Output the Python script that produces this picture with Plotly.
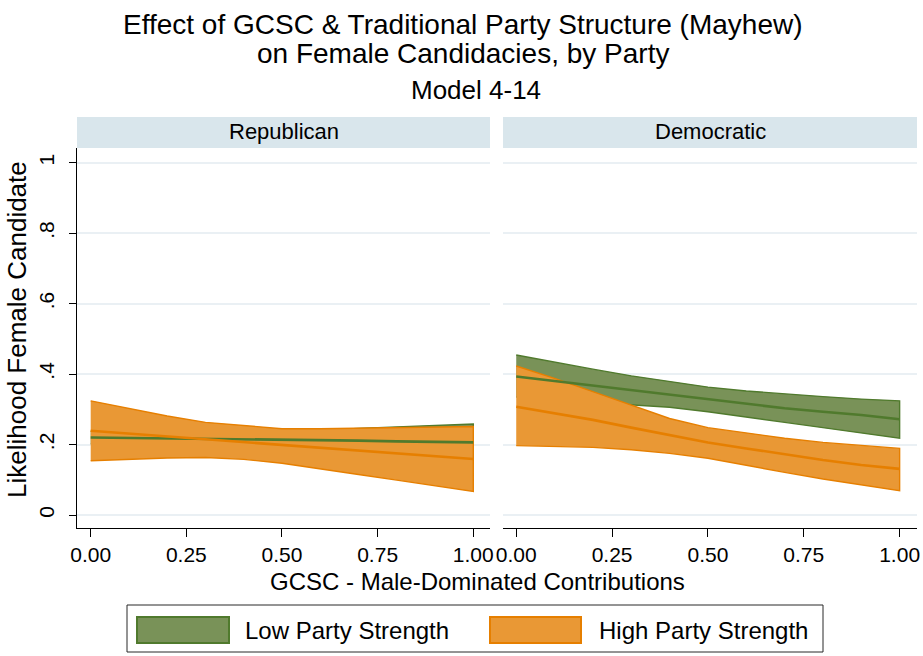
import plotly.graph_objects as go

# GCSC share of male-dominated contributions
gcsc = [0.0, 0.1, 0.2, 0.3, 0.4, 0.5, 0.6, 0.7, 0.8, 0.9, 1.0]

# Republican: predicted probability with 95% bounds
rep_low_mean = [0.220, 0.219, 0.218, 0.217, 0.215, 0.213, 0.212, 0.211, 0.209, 0.208, 0.206]
rep_low_upper = [0.238, 0.236, 0.234, 0.233, 0.234, 0.237, 0.241, 0.246, 0.250, 0.254, 0.258]
rep_low_lower = [0.202, 0.202, 0.202, 0.201, 0.196, 0.189, 0.183, 0.176, 0.168, 0.161, 0.154]
rep_high_mean = [0.239, 0.231, 0.222, 0.214, 0.205, 0.197, 0.189, 0.182, 0.174, 0.167, 0.159]
rep_high_upper = [0.324, 0.303, 0.281, 0.263, 0.254, 0.245, 0.245, 0.246, 0.247, 0.249, 0.251]
rep_high_lower = [0.154, 0.158, 0.162, 0.163, 0.158, 0.147, 0.132, 0.115, 0.099, 0.082, 0.067]

# Democratic
dem_low_mean = [0.393, 0.380, 0.369, 0.356, 0.343, 0.329, 0.315, 0.303, 0.293, 0.284, 0.272]
dem_low_upper = [0.454, 0.433, 0.414, 0.395, 0.378, 0.363, 0.352, 0.343, 0.336, 0.329, 0.324]
dem_low_lower = [0.335, 0.326, 0.318, 0.312, 0.306, 0.293, 0.279, 0.263, 0.248, 0.232, 0.218]
dem_high_mean = [0.307, 0.289, 0.270, 0.248, 0.227, 0.206, 0.189, 0.172, 0.156, 0.142, 0.131]
dem_high_upper = [0.423, 0.388, 0.350, 0.312, 0.274, 0.248, 0.232, 0.218, 0.206, 0.197, 0.189]
dem_high_lower = [0.197, 0.195, 0.192, 0.185, 0.175, 0.161, 0.140, 0.121, 0.102, 0.085, 0.069]

panels = ["Republican", "Democratic"]
x_ticks = [0, 0.25, 0.5, 0.75, 1.0]
x_ticktext = ["0.00", "0.25", "0.50", "0.75", "1.00"]
y_ticks = [0, 0.2, 0.4, 0.6, 0.8, 1.0]
y_ticktext = ["0", ".2", ".4", ".6", ".8", "1"]
legend_labels = ["Low Party Strength", "High Party Strength"]
title_lines = ["Effect of GCSC & Traditional Party Structure (Mayhew)",
               "on Female Candidacies, by Party"]
subtitle = "Model 4-14"

GREEN_FILL = "rgb(121,146,88)"
GREEN_LINE = "rgb(80,122,45)"
ORANGE_FILL = "rgb(233,152,53)"
ORANGE_LINE = "rgb(230,127,0)"
FONT = "Liberation Sans, Arial, sans-serif"

W, H = 923, 656


def px(x):
    return x / W


def py(y):
    return 1 - y / H


fig = go.Figure()


def band(xs, lo, hi, fill, edge, xa, ya):
    fig.add_trace(go.Scatter(
        x=xs + xs[::-1], y=hi + lo[::-1], fill="toself", mode="lines",
        fillcolor=fill, line=dict(color=edge, width=1.4),
        xaxis=xa, yaxis=ya, showlegend=False, hoverinfo="skip"))


def mean_line(xs, ys, color, xa, ya):
    fig.add_trace(go.Scatter(
        x=xs, y=ys, mode="lines", line=dict(color=color, width=2.6),
        xaxis=xa, yaxis=ya, showlegend=False))


series = [
    ("x", "y", rep_low_mean, rep_low_lower, rep_low_upper,
     rep_high_mean, rep_high_lower, rep_high_upper),
    ("x2", "y2", dem_low_mean, dem_low_lower, dem_low_upper,
     dem_high_mean, dem_high_lower, dem_high_upper),
]
for xa, ya, lm, ll, lu, hm, hl, hu in series:
    band(gcsc, ll, lu, GREEN_FILL, GREEN_LINE, xa, ya)
    band(gcsc, hl, hu, ORANGE_FILL, ORANGE_LINE, xa, ya)
    mean_line(gcsc, lm, GREEN_LINE, xa, ya)
    mean_line(gcsc, hm, ORANGE_LINE, xa, ya)

# Panel geometry (pixels)
p1 = (77, 490)
p2 = (503, 917)
top, bottom = 148, 528
y_range = [-0.0369, 1.0417]
x_range1 = [-0.0358, 1.0437]
x_range2 = [-0.0345, 1.0453]

axis_common = dict(
    tickvals=x_ticks, ticktext=x_ticktext, automargin=False,
    ticks="outside", ticklen=8, tickwidth=1, tickcolor="black",
    showline=True, linecolor="black", linewidth=1,
    showgrid=False, zeroline=False,
    tickfont=dict(family=FONT, size=21, color="black"),
)
fig.update_layout(
    width=W, height=H, margin=dict(l=0, r=0, t=0, b=0, autoexpand=False),
    paper_bgcolor="white", plot_bgcolor="white",
    xaxis=dict(domain=[px(p1[0]), px(p1[1])], anchor="y", range=x_range1,
               **axis_common),
    xaxis2=dict(domain=[px(p2[0]), px(p2[1])], anchor="y2", range=x_range2,
                **axis_common),
    yaxis=dict(
        domain=[py(bottom), py(top)], range=y_range, anchor="x",
        automargin=False,
        tickvals=y_ticks, ticktext=y_ticktext, tickangle=-90,
        ticks="outside", ticklen=7, tickcolor="black", ticklabelstandoff=7,
        showline=True, linecolor="black", linewidth=1,
        showgrid=True, gridcolor="rgb(234,240,244)", gridwidth=1.5,
        zeroline=False, tickfont=dict(family=FONT, size=21, color="black"),
    ),
    yaxis2=dict(
        domain=[py(bottom), py(top)], range=y_range, anchor="x2",
        automargin=False,
        tickvals=y_ticks, showticklabels=False, ticks="",
        showline=False, showgrid=True, gridcolor="rgb(234,240,244)",
        gridwidth=1.5, zeroline=False,
    ),
)

shapes = []
annotations = []

# Panel strips
for (x0, x1), name in zip([p1, p2], panels):
    shapes.append(dict(type="rect", xref="paper", yref="paper",
                       x0=px(x0), x1=px(x1), y0=py(148), y1=py(117),
                       fillcolor="rgb(217,230,236)", line=dict(width=0),
                       layer="below"))
    annotations.append(dict(text=name, xref="paper", yref="paper",
                            x=px((x0 + x1) / 2), y=py(132), showarrow=False,
                            xanchor="center", yanchor="middle",
                            font=dict(family=FONT, size=22, color="black")))

# Titles
for line, yc in zip(title_lines, [25, 53]):
    annotations.append(dict(
        text=line, xref="paper", yref="paper", x=px(463), y=py(yc),
        showarrow=False, xanchor="center", yanchor="middle",
        font=dict(family=FONT, size=28, color="black")))
annotations.append(dict(
    text=subtitle, xref="paper", yref="paper", x=px(476), y=py(90),
    showarrow=False, xanchor="center", yanchor="middle",
    font=dict(family=FONT, size=26, color="black")))

# Axis titles
annotations.append(dict(
    text="GCSC - Male-Dominated Contributions", xref="paper", yref="paper",
    x=px(477), y=py(581), showarrow=False, xanchor="center", yanchor="middle",
    font=dict(family=FONT, size=24, color="black")))
annotations.append(dict(
    text="Likelihood Female Candidate", xref="paper", yref="paper",
    x=px(17), y=py(330), showarrow=False, textangle=-90,
    xanchor="center", yanchor="middle",
    font=dict(family=FONT, size=26, color="black")))

# Legend box
shapes.append(dict(type="rect", xref="paper", yref="paper",
                   x0=px(127), x1=px(823), y0=py(652), y1=py(605),
                   fillcolor="white", line=dict(color="rgb(40,40,40)", width=1)))
legend_items = [
    (137, 229, 243, GREEN_FILL, GREEN_LINE),
    (490, 581, 597, ORANGE_FILL, ORANGE_LINE),
]
for (sx0, sx1, tx, fill, edge), label in zip(legend_items, legend_labels):
    shapes.append(dict(type="rect", xref="paper", yref="paper",
                       x0=px(sx0), x1=px(sx1), y0=py(643), y1=py(617),
                       fillcolor=fill, line=dict(color=edge, width=2)))
    annotations.append(dict(text=label, xref="paper", yref="paper",
                            x=px(tx), y=py(630), showarrow=False,
                            xanchor="left", yanchor="middle",
                            font=dict(family=FONT, size=24, color="black")))

fig.update_layout(shapes=shapes, annotations=annotations)

fig.write_html("out.html")
